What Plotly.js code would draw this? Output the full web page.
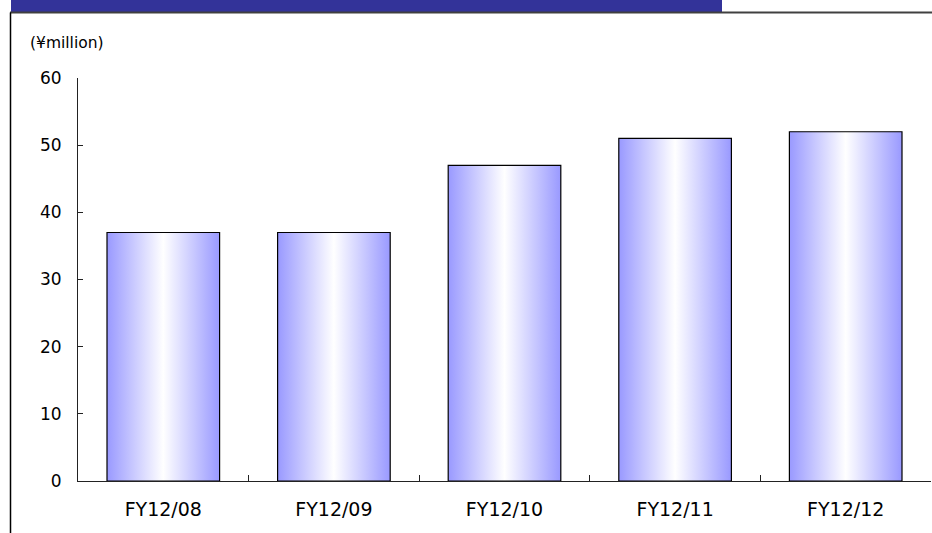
<!DOCTYPE html>
<html>
<head>
<meta charset="utf-8">
<script src="https://cdn.plot.ly/plotly-3.0.1.min.js"></script>
<style>html,body{margin:0;padding:0;background:#fff;}#chart{width:932px;height:533px;}</style>
</head>
<body>
<div id="chart"></div>
<script>
const categories = ["FY12/08", "FY12/09", "FY12/10", "FY12/11", "FY12/12"];
const values = [37, 37, 47, 51, 52];
const yTicks = [0, 10, 20, 30, 40, 50, 60];
const unitLabel = "(¥million)";

const W = 932, H = 533;
const M = {l: 78, r: 1, t: 78, b: 52};
const pw = W - M.l - M.r, ph = H - M.t - M.b;
const px = x => (x - M.l) / pw;
const py = y => (H - M.b - y) / ph;

const trace = {
  type: "bar",
  x: categories,
  y: values,
  marker: {color: "#ccccff", line: {color: "#000", width: 1.2}},
  hoverinfo: "none"
};

const layout = {
  width: W, height: H,
  margin: M,
  paper_bgcolor: "#fff",
  plot_bgcolor: "#fff",
  showlegend: false,
  bargap: 0.34,
  font: {family: "DejaVu Sans", color: "#000"},
  xaxis: {
    type: "category",
    showline: true, linecolor: "#222", linewidth: 1,
    ticks: "inside", tickson: "boundaries", ticklen: 6, tickcolor: "#222",
    tickfont: {size: 19, family: "DejaVu Sans", color: "#000"},
    ticklabelstandoff: 11,
    showgrid: false, zeroline: false, fixedrange: true
  },
  yaxis: {
    range: [0, 60],
    tickvals: yTicks,
    showline: true, linecolor: "#222", linewidth: 1,
    ticks: "inside", ticklen: 5, tickcolor: "#222",
    tickfont: {size: 17, family: "DejaVu Sans", color: "#000"},
    ticklabelstandoff: 12,
    showgrid: false, zeroline: false, fixedrange: true
  },
  shapes: [
    {type: "rect", xref: "paper", yref: "paper", x0: px(11), x1: px(722), y0: py(12), y1: py(-2),
     fillcolor: "#333399", line: {width: 0}, layer: "above"},
    {type: "line", xref: "paper", yref: "paper", x0: px(10), x1: px(934), y0: py(12.5), y1: py(12.5),
     line: {color: "#404040", width: 2}},
    {type: "line", xref: "paper", yref: "paper", x0: px(10.5), x1: px(10.5), y0: py(12.5), y1: py(540),
     line: {color: "#000", width: 1.5}}
  ],
  annotations: [
    {text: unitLabel, xref: "paper", yref: "paper", x: px(28), y: py(43),
     xanchor: "left", yanchor: "middle", showarrow: false,
     font: {size: 15.5, family: "DejaVu Sans", color: "#000"}}
  ]
};

Plotly.newPlot("chart", [trace], layout, {displayModeBar: false, staticPlot: true}).then(gd => {
  const svg = gd.querySelector(".main-svg");
  const ns = "http://www.w3.org/2000/svg";
  let defs = svg.querySelector("defs");
  if (!defs) { defs = document.createElementNS(ns, "defs"); svg.insertBefore(defs, svg.firstChild); }
  const g = document.createElementNS(ns, "linearGradient");
  g.setAttribute("id", "barGrad");
  g.setAttribute("x1", "0"); g.setAttribute("y1", "0");
  g.setAttribute("x2", "1"); g.setAttribute("y2", "0");
  [["0", "#9999ff"], ["0.5", "#ffffff"], ["1", "#9999ff"]].forEach(([o, c]) => {
    const s = document.createElementNS(ns, "stop");
    s.setAttribute("offset", o); s.setAttribute("stop-color", c);
    g.appendChild(s);
  });
  defs.appendChild(g);
  gd.querySelectorAll(".bars .point path").forEach(p => { p.style.fill = "url(#barGrad)"; });
});
</script>
</body>
</html>
